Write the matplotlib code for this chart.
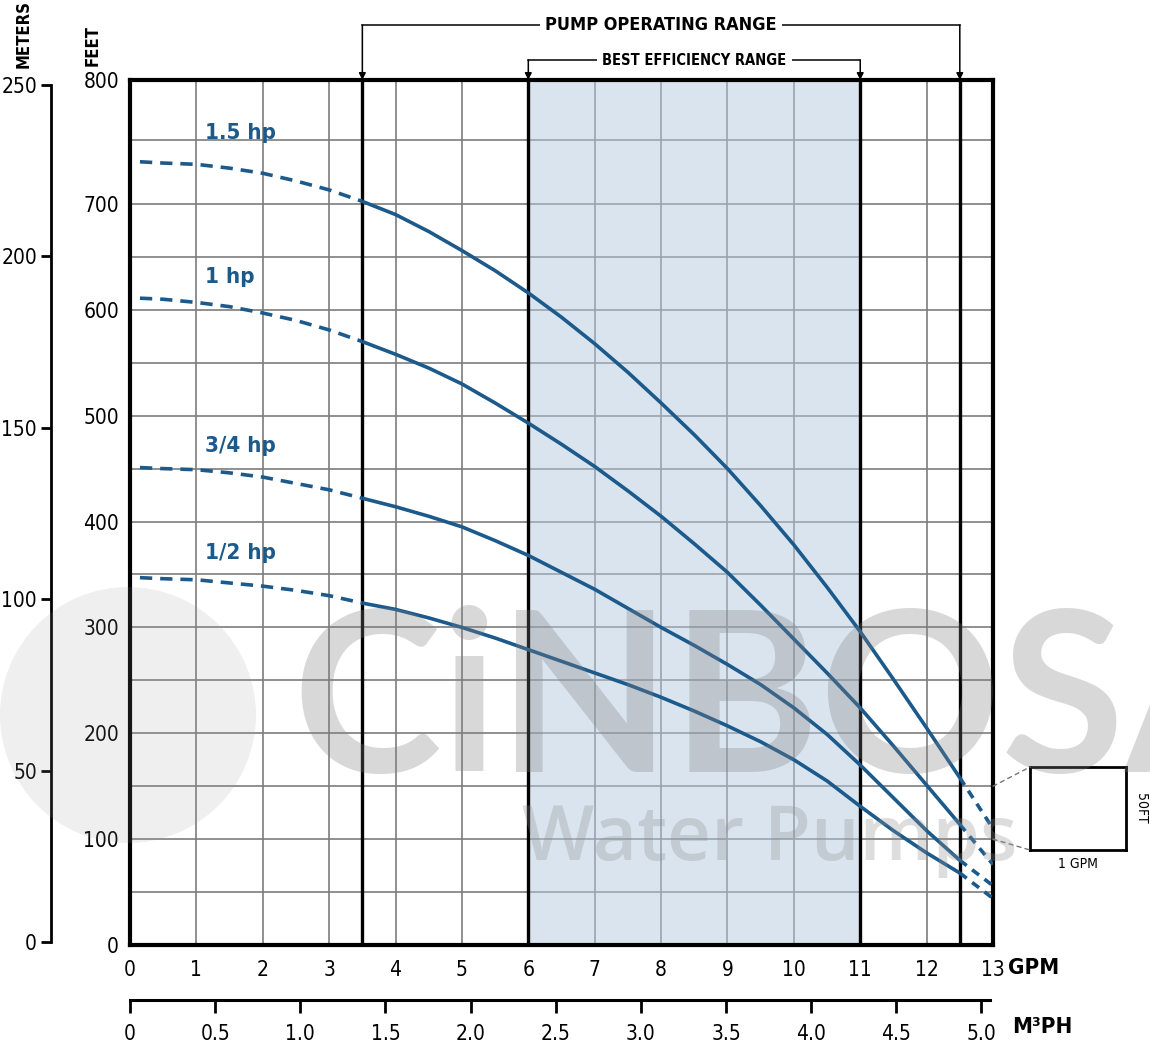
import numpy as np
import matplotlib
matplotlib.use("Agg")
import matplotlib.pyplot as plt
from matplotlib.patches import Ellipse, ConnectionPatch

plt.rcParams['font.family'] = ['DejaVu Sans']
plt.rcParams['font.stretch'] = 'condensed'

# flow (GPM) where the curves were read
gpm = [0.15, 0.5, 1, 1.5, 2, 2.5, 3, 3.5, 4, 4.5, 5, 5.5, 6, 6.5, 7, 7.5, 8, 8.5,
       9, 9.5, 10, 10.5, 11, 11.5, 12, 12.5, 13]
# head in feet
hp_15 = [733, 732, 731, 728, 724, 718, 711, 702, 690, 674, 656, 637, 616, 593, 568, 541, 512, 482,
         450, 415, 378, 338, 296, 251, 205, 158, 110]
hp_10 = [611, 610, 607, 603, 597, 590, 581, 570, 558, 545, 530, 512, 493, 473, 452, 429, 405, 379,
         352, 321, 289, 257, 224, 188, 151, 114, 76]
hp_075 = [451, 450, 449, 446, 442, 436, 430, 422, 414, 405, 395, 382, 368, 352, 336, 318, 300, 283,
          265, 246, 224, 199, 170, 139, 108, 80, 56]
hp_05 = [347, 346, 345, 342, 339, 335, 330, 323, 317, 309, 300, 290, 279, 268, 257, 246, 234, 221,
         207, 192, 175, 155, 131, 108, 87, 68, 44]
curves = [hp_15, hp_10, hp_075, hp_05]
curve_labels = ['1.5 hp', '1 hp', '3/4 hp', '1/2 hp']
label_pos = [(1.13, 756), (1.13, 631), (1.13, 471), (1.13, 370)]

op_range = (3.5, 12.5)
best_range = (6, 11)
gpm_ticks = list(range(0, 14))
feet_ticks = list(range(0, 801, 100))
meter_ticks = [0, 50, 100, 150, 200, 250]
m3ph_ticks = [0, 0.5, 1.0, 1.5, 2.0, 2.5, 3.0, 3.5, 4.0, 4.5, 5.0]
m3ph_labels = ['0', '0.5', '1.0', '1.5', '2.0', '2.5', '3.0', '3.5', '4.0', '4.5', '5.0']

BLUE = '#1c5a8c'
W, H = 1150, 1042


def fx(px):
    return px / W


def fy(py):
    return 1 - py / H


# the printed grid is stretched a bit above 700 ft
ft_in = [0, 700, 750, 800]
ft_out = [0, 700, 760.4, 817.1]


def fwd(v):
    return np.interp(v, ft_in, ft_out)


def inv(v):
    return np.interp(v, ft_out, ft_in)


fig = plt.figure(figsize=(W / 100, H / 100), dpi=100)
ax = fig.add_axes([fx(130), fy(945), (993 - 130) / W, (945 - 80) / H])
ax.set_yscale('function', functions=(fwd, inv))
ax.set_xlim(0, 13)
ax.set_ylim(0, 800)
ax.set_xticks(gpm_ticks)
ax.set_yticks(feet_ticks)
ax.set_yticks([v + 50 for v in feet_ticks[:-1]], minor=True)
ax.set_axisbelow(True)
ax.grid(which='both', color='#7d7d7d', lw=1.2)
ax.tick_params(axis='both', which='both', length=0, labelsize=15)
ax.tick_params(axis='x', pad=11)
ax.tick_params(axis='y', pad=8)
for s in ax.spines.values():
    s.set_linewidth(3)

ax.axvspan(best_range[0], best_range[1], color='#b4cbe0', alpha=0.5, zorder=2, lw=0)
for x in list(op_range) + list(best_range):
    ax.axvline(x, color='black', lw=2.4, zorder=3)

g = np.array(gpm)
left = g <= op_range[0]
mid = (g >= op_range[0]) & (g <= op_range[1])
right = g >= op_range[1]
for vals, lab, (lx, ly) in zip(curves, curve_labels, label_pos):
    v = np.array(vals)
    ax.plot(g[mid], v[mid], color=BLUE, lw=2.6, zorder=4, solid_capstyle='butt',
            solid_joinstyle='round')
    ax.plot(g[left], v[left], color=BLUE, lw=2.6, zorder=4, ls=(0, (3.4, 2.2)))
    ax.plot(g[right], v[right], color=BLUE, lw=2.6, zorder=4, ls=(0, (2.4, 1.9)))
    ax.text(lx, ly, lab, color=BLUE, fontsize=16, fontweight='bold', va='center', zorder=6)

# range brackets above the chart
trans = ax.get_xaxis_transform()
for (x0, x1), yb, txt, fs in [(op_range, 1.0636, 'PUMP OPERATING RANGE', 13),
                              (best_range, 1.0231, 'BEST EFFICIENCY RANGE', 10.5)]:
    ax.plot([x0, x1], [yb, yb], transform=trans, clip_on=False, color='black', lw=1.1)
    for x in (x0, x1):
        ax.annotate('', xy=(x, 1.0), xytext=(x, yb), xycoords=trans, textcoords=trans,
                    arrowprops=dict(arrowstyle='-|>', color='black', lw=1.1,
                                    mutation_scale=10, shrinkA=0, shrinkB=0))
    ax.text((x0 + x1) / 2, yb, txt, transform=trans, ha='center', va='center',
            fontsize=fs, fontweight='bold',
            bbox=dict(facecolor='white', edgecolor='none', pad=4))

# meters axis
axm = fig.add_axes([fx(51), fy(942), 0.002, (942 - 85) / H])
axm.set_ylim(0, 250)
axm.set_yticks(meter_ticks)
axm.set_xticks([])
for k in ['top', 'right', 'bottom']:
    axm.spines[k].set_visible(False)
axm.spines['left'].set_linewidth(2)
axm.tick_params(axis='y', length=7, width=2, labelsize=15, pad=3)
axm.patch.set_visible(False)

# m3/h axis
axq = fig.add_axes([fx(130), fy(1000), (990 - 130) / W, 0.0005])
axq.set_xlim(0, 5.05)
axq.set_xticks(m3ph_ticks)
axq.set_xticklabels(m3ph_labels)
axq.set_yticks([])
for k in ['top', 'right', 'left']:
    axq.spines[k].set_visible(False)
axq.spines['bottom'].set_linewidth(2.2)
axq.tick_params(axis='x', length=9, width=2, labelsize=15, pad=8)
axq.patch.set_visible(False)

fig.text(fx(24), fy(34), 'METERS', rotation=90, ha='center', va='center', fontsize=12, fontweight='bold')
fig.text(fx(93), fy(46), 'FEET', rotation=90, ha='center', va='center', fontsize=12, fontweight='bold')
fig.text(fx(1008), fy(968), 'GPM', ha='left', va='center', fontsize=16, fontweight='bold')
fig.text(fx(1012), fy(1027), 'M³PH', ha='left', va='center', fontsize=16, fontweight='bold')

# scale key box
axi = fig.add_axes([fx(1030), fy(850), 96 / W, 83 / H])
axi.set_xticks([])
axi.set_yticks([])
for s in axi.spines.values():
    s.set_linewidth(2)
fig.text(fx(1078), fy(864), '1 GPM', ha='center', va='center', fontsize=10)
fig.text(fx(1141), fy(808), '50FT', ha='center', va='center', fontsize=10, rotation=270)
for ya, yb in [(150, 1), (100, 0)]:
    fig.add_artist(ConnectionPatch(xyA=(13, ya), coordsA=ax.transData, xyB=(0, yb),
                                   coordsB=axi.transAxes, ls=(0, (3, 3)), color='#777777', lw=1))

# watermark
fig.add_artist(Ellipse((fx(128), fy(715)), 256 / W, 256 / H, transform=fig.transFigure,
                       color='#999999', alpha=0.15, lw=0, zorder=10))
fig.text(fx(292), fy(772), 'CiNBOSA', fontsize=162, fontweight='bold', color='#808080',
         alpha=0.3, family=['Lato', 'DejaVu Sans'], stretch='normal', zorder=10)
fig.text(fx(522), fy(860), 'Water Pumps', fontsize=55, color='#909090', fontweight='semibold',
         alpha=0.3, family=['Open Sans', 'DejaVu Sans'], stretch='normal', zorder=10)

fig.savefig('out.png', dpi=100)
